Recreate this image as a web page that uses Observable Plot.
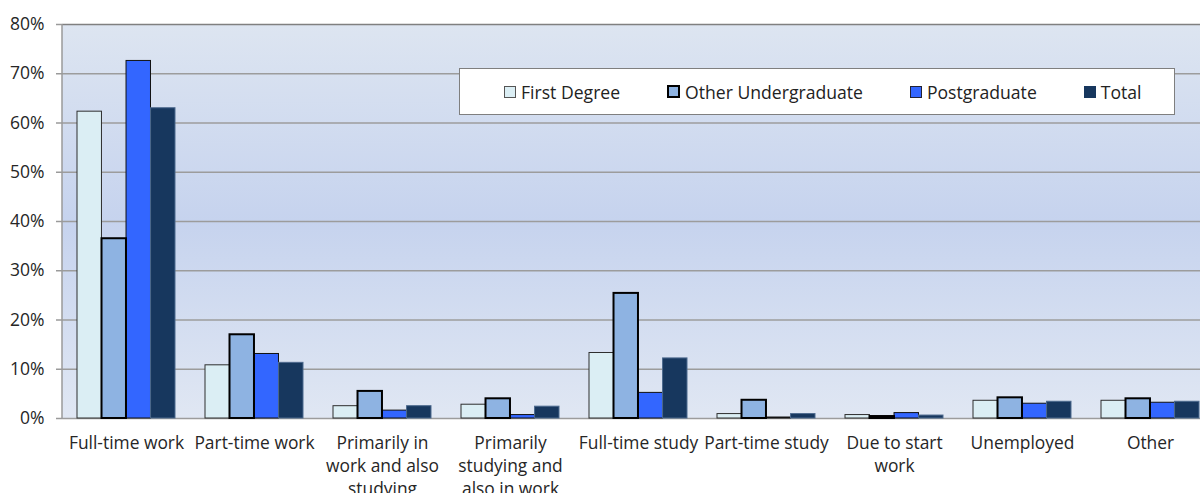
<!DOCTYPE html>
<html><head><meta charset="utf-8">
<script src="https://cdn.jsdelivr.net/npm/d3@7"></script>
<script src="https://cdn.jsdelivr.net/npm/@observablehq/plot@0.6"></script>
<style>
html,body{margin:0;padding:0;background:#fff;overflow:hidden}
#wrap{position:relative;width:1200px;height:493px;overflow:hidden;font-family:"Open Sans",sans-serif}
#chart svg{display:block;max-width:none !important}
#legend{position:absolute;left:459px;top:68px;width:670px;height:45px;background:#fff;border:1px solid #7f7f7f;display:flex;align-items:center;padding-left:44px;gap:47px;font-size:17.6px;color:#222}
#legend .it{display:flex;align-items:center;white-space:nowrap}
#legend .sw{width:10px;height:10px;margin-right:5px;box-sizing:content-box}
</style></head>
<body><div id="wrap"><div id="chart"></div><div id="legend"></div></div>
<script>
const categories = ["Full-time work","Part-time work","Primarily in work and also studying","Primarily studying and also in work","Full-time study","Part-time study","Due to start work","Unemployed","Other"];
const tickLabels = ["Full-time work","Part-time work","Primarily in\nwork and also\nstudying","Primarily\nstudying and\nalso in work","Full-time study","Part-time study","Due to start\nwork","Unemployed","Other"];
const seriesNames = ["First Degree","Other Undergraduate","Postgraduate","Total"];
const firstDegree = [62.3,10.8,2.5,2.8,13.3,0.9,0.7,3.6,3.6];
const otherUndergraduate = [36.5,17.0,5.5,4.0,25.4,3.7,0.4,4.2,4.0];
const postgraduate = [72.6,13.1,1.6,0.7,5.2,0.2,1.1,3.0,3.2];
const total = [63.0,11.3,2.5,2.4,12.2,0.9,0.6,3.4,3.4];
const yTicks = [0,10,20,30,40,50,60,70,80];

const seriesValues = [firstDegree, otherUndergraduate, postgraduate, total];
const styles = [
  {fill:"#dbeef4", stroke:"#2e2e2e", strokeWidth:1},
  {fill:"#8eb3e2", stroke:"#000000", strokeWidth:2},
  {fill:"#3366ff", stroke:"#111111", strokeWidth:1},
  {fill:"#17375e", stroke:"#4d6a8e", strokeWidth:1}
];
const rows = [];
seriesNames.forEach((s, si) => categories.forEach((c, ci) => rows.push({series:s, category:c, value:seriesValues[si][ci]})));

const W = 1214, ML = 62, MR = 0;
const padIn = 0.234, padOut = padIn/2;
const step = (W - ML - MR) / categories.length;
const bw = step * (1 - padIn);
const q = bw / 4;

const bgMark = (index, scales, values, dim) => {
  const g = d3.create("svg:g");
  const defs = g.append("defs");
  const lg = defs.append("linearGradient").attr("id","bgGrad").attr("x1",0).attr("y1",0).attr("x2",0).attr("y2",1);
  [["0%","#dde5f1"],["50%","#c6d3ee"],["100%","#e0e7f3"]].forEach(([o,c]) => lg.append("stop").attr("offset",o).attr("stop-color",c));
  g.append("rect").attr("x",dim.marginLeft).attr("y",dim.marginTop)
    .attr("width",dim.width-dim.marginLeft-dim.marginRight)
    .attr("height",dim.height-dim.marginTop-dim.marginBottom)
    .attr("fill","url(#bgGrad)");
  return g.node();
};
const leftLine = (index, scales, values, dim) => {
  const l = d3.create("svg:line");
  l.attr("x1",dim.marginLeft).attr("x2",dim.marginLeft).attr("y1",dim.marginTop).attr("y2",dim.height-dim.marginBottom)
   .attr("stroke","#9a9a9a").attr("stroke-width",1.5);
  return l.node();
};

const barMarks = seriesNames.map((s, si) => Plot.barY(rows.filter(r => r.series === s), {
  x: "category", y: "value", ...styles[si],
  insetLeft: si*q, insetRight: (3-si)*q
}));
// draw Other Undergraduate last so its heavy border stays visible
const ordered = [barMarks[0], barMarks[2], barMarks[3], barMarks[1]];

const chart = Plot.plot({
  width: W, height: 493,
  marginLeft: ML, marginRight: MR, marginTop: 24, marginBottom: 75,
  style: {fontFamily:"'Open Sans', sans-serif", fontSize:"17px", background:"transparent", color:"#222", maxWidth:"none"},
  x: {type:"band", domain: categories, paddingInner: padIn, paddingOuter: padOut, label: null, axis: null},
  y: {domain: [0, 80], label: null, axis: null},
  marks: [
    bgMark,
    Plot.ruleY(yTicks.filter(d => d > 0 && d < 80), {stroke:"#9c9c9c", strokeWidth:1.3}),
    Plot.ruleY([80], {stroke:"#808080", strokeWidth:1.5}),
    Plot.ruleY([0], {stroke:"#9c9c9c", strokeWidth:1.5}),
    leftLine,
    Plot.axisY(yTicks, {tickSize:6, tickPadding:12, tickFormat: d => d + "%", fontSize:17.5, stroke:"#9a9a9a", strokeWidth:1.5, fill:"#262626"}),
    Plot.axisX({tickSize:0, tickPadding:14, tickFormat: d => tickLabels[categories.indexOf(d)], fontSize:17.4, lineHeight:1.32, fill:"#262626"}),
    ...ordered
  ]
});
document.getElementById("chart").append(chart);

const legend = document.getElementById("legend");
const swStyles = [
  "background:#dbeef4;border:1px solid #555",
  "background:#8eb3e2;border:2px solid #000;width:9px;height:9px",
  "background:#3366ff;border:1px solid #223",
  "background:#17375e;border:1px solid #17375e"
];
seriesNames.forEach((s, i) => {
  const it = document.createElement("div"); it.className = "it";
  const sw = document.createElement("div"); sw.className = "sw"; sw.style.cssText = swStyles[i];
  const t = document.createElement("span"); t.textContent = s;
  it.append(sw, t); legend.append(it);
});
</script></body></html>
